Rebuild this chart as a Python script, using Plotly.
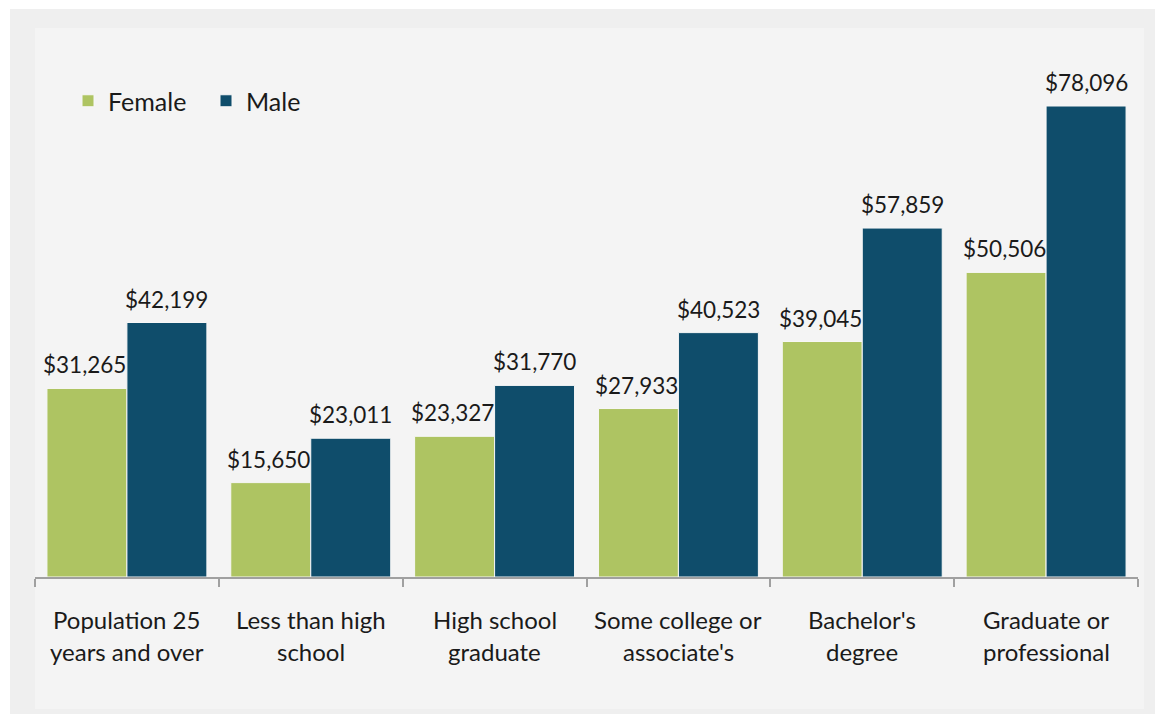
import plotly.graph_objects as go

# Median earnings by educational attainment and sex
categories = [
    "Population 25<br>years and over",
    "Less than high<br>school",
    "High school<br>graduate",
    "Some college or<br>associate's",
    "Bachelor's<br>degree",
    "Graduate or<br>professional",
]
female = [31265, 15650, 23327, 27933, 39045, 50506]
male = [42199, 23011, 31770, 40523, 57859, 78096]

FEMALE_COLOR = "#aec462"
MALE_COLOR = "#0f4d6b"
FONT = "Lato"
TEXT_COLOR = "#1a1a1a"

W, H = 1155, 721
# plot area in pixels
L, R, T, B = 35, 1138, 28, 577
BAR_PX = 80  # width of a single bar in pixels (half of a group)


def px_x(p):
    return (p - L) / (R - L)


def px_y(p):
    return (B - p) / (B - T)


fig = go.Figure()
series = [("Female", female, FEMALE_COLOR, -BAR_PX / 2), ("Male", male, MALE_COLOR, BAR_PX / 2)]
for name, vals, color, _ in series:
    fig.add_trace(go.Bar(
        name=name,
        x=categories,
        y=vals,
        marker=dict(color=color, line=dict(width=1, color="#f7f7f7")),
        hovertemplate="%{x}: $%{y:,}<extra>" + name + "</extra>",
    ))

annotations = []
# value labels above each bar
for name, vals, color, dx in series:
    for cat, v in zip(categories, vals):
        annotations.append(dict(
            x=cat, xref="x", y=v, yref="y",
            text=f"${v:,}", showarrow=False,
            xanchor="center", yanchor="bottom",
            xshift=dx - (2 if dx < 0 else 0), yshift=8,
            font=dict(family=FONT, size=22.5, color=TEXT_COLOR),
        ))

# category labels drawn line by line under the axis
for cat in categories:
    for i, line in enumerate(cat.split("<br>")):
        annotations.append(dict(
            x=cat, xref="x", y=0, yref="y",
            text=line, showarrow=False,
            xanchor="center", yanchor="middle",
            yshift=-42 - 32 * i,
            font=dict(family=FONT, size=24, color=TEXT_COLOR),
        ))

shapes = [
    # outer panel
    dict(type="rect", xref="paper", yref="paper",
         x0=px_x(10), x1=px_x(1155), y0=px_y(714), y1=px_y(9),
         fillcolor="#efefef", line=dict(width=0), layer="below"),
    # inner panel
    dict(type="rect", xref="paper", yref="paper",
         x0=px_x(35), x1=px_x(1144), y0=px_y(709), y1=px_y(28),
         fillcolor="#f4f4f4", line=dict(width=0), layer="below"),
]

fig.update_layout(
    width=W, height=H,
    margin=dict(l=L, r=W - R, t=T, b=H - B),
    paper_bgcolor="white",
    plot_bgcolor="rgba(0,0,0,0)",
    barmode="group",
    bargap=0.13,
    bargroupgap=0,
    showlegend=True,
    legend=dict(
        orientation="h",
        x=px_x(68), y=px_y(78),
        xanchor="left", yanchor="top",
        entrywidth=93, entrywidthmode="pixels",
        font=dict(family=FONT, size=25, color=TEXT_COLOR),
        bgcolor="rgba(0,0,0,0)",
        itemclick=False,
    ),
    xaxis=dict(
        type="category",
        showticklabels=False,
        showline=True, linecolor="#a0a0a0", linewidth=2,
        ticks="outside", tickson="boundaries", ticklen=8,
        tickcolor="#a0a0a0", tickwidth=2,
        showgrid=False, zeroline=False,
    ),
    yaxis=dict(
        range=[0, 91030],
        visible=False,
        showgrid=False, zeroline=False,
    ),
    annotations=annotations,
    shapes=shapes,
    font=dict(family=FONT),
)

fig.write_html("out.html")
